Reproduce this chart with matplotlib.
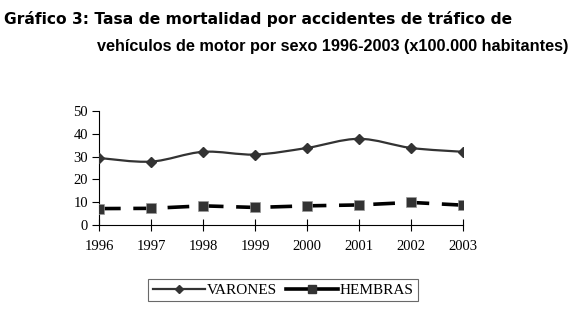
import numpy as np
import matplotlib
matplotlib.use('Agg')
from matplotlib import pyplot as plt
from matplotlib.path import Path
from matplotlib.patches import PathPatch
from matplotlib.lines import Line2D

years = [1996, 1997, 1998, 1999, 2000, 2001, 2002, 2003]
varones = [29.4, 27.8, 32.1, 30.9, 33.8, 37.8, 33.8, 32.1]
hembras = [7.2, 7.3, 8.4, 7.7, 8.4, 8.8, 9.9, 8.7]

title1 = 'Gráfico 3: Tasa de mortalidad por accidentes de tráfico de'
title2 = 'vehículos de motor por sexo 1996-2003 (x100.000 habitantes)'


def smooth_path(x, y, t=1.0 / 6):
    # excel-like smoothed line, bezier segments through the points
    x = np.asarray(x, float)
    y = np.asarray(y, float)
    n = len(x)
    verts = [(x[0], y[0])]
    codes = [Path.MOVETO]
    for i in range(n - 1):
        x0, y0 = (x[i - 1], y[i - 1]) if i > 0 else (x[i], y[i])
        x3, y3 = (x[i + 2], y[i + 2]) if i + 2 < n else (x[i + 1], y[i + 1])
        c1 = (x[i] + (x[i + 1] - x0) * t, y[i] + (y[i + 1] - y0) * t)
        c2 = (x[i + 1] - (x3 - x[i]) * t, y[i + 1] - (y3 - y[i]) * t)
        verts += [c1, c2, (x[i + 1], y[i + 1])]
        codes += [Path.CURVE4] * 3
    return Path(verts, codes)


fig = plt.figure(figsize=(5.75, 3.21), dpi=100)
ax = fig.add_axes([99 / 575, 96 / 321, 364 / 575, 114 / 321])

serif = 'Liberation Serif'
sans = 'Liberation Sans'

# varones: smoothed line + diamonds
ax.add_patch(PathPatch(smooth_path(years, varones), facecolor='none',
                       edgecolor='#333333', linewidth=1.6, zorder=2))
ax.plot(years, varones, linestyle='none', marker='D', markersize=5,
        color='#333333', zorder=3)

# hembras: thick dashed + squares
ax.plot(years, hembras, color='black', linewidth=2.6,
        dashes=(6, 3.5), zorder=2)
ax.plot(years, hembras, linestyle='none', marker='s', markersize=7,
        color='#333333', markeredgecolor='#999999', markeredgewidth=0.5,
        zorder=3)

ax.set_xlim(1996, 2003)
ax.set_ylim(0, 50)
ax.set_xticks(years)
ax.set_yticks([0, 10, 20, 30, 40, 50])
ax.spines['top'].set_visible(False)
ax.spines['right'].set_visible(False)
ax.spines['left'].set_linewidth(0.8)
ax.spines['bottom'].set_linewidth(0.8)
ax.tick_params(axis='y', direction='out', length=5, width=0.8, pad=3)
ax.tick_params(axis='x', direction='inout', length=8, width=0.8, pad=7)
for lab in ax.get_xticklabels() + ax.get_yticklabels():
    lab.set_fontfamily(serif)
    lab.set_fontsize(10.5)

fig.text(4 / 575, 1 - 19 / 321, title1, fontfamily='DejaVu Sans',
         fontweight='bold', fontsize=11.2, va='center', ha='left')
fig.text(97 / 575, 1 - 47 / 321, title2, fontfamily=sans, fontweight='bold',
         fontsize=11.7, va='center', ha='left')

handles = [
    Line2D([], [], color='#333333', linewidth=1.6, marker='D', markersize=4),
    Line2D([], [], color='black', linewidth=2.6, marker='s', markersize=6,
           markerfacecolor='#333333', markeredgecolor='#333333'),
]
leg = fig.legend(handles, ['VARONES', 'HEMBRAS'], loc='center',
                 bbox_to_anchor=(283 / 575, 1 - 290 / 321), ncol=2,
                 frameon=True, fancybox=False, handlelength=3.4,
                 handletextpad=0.1, columnspacing=0.6, borderpad=0.3,
                 prop={'family': serif, 'size': 11})
leg.get_frame().set_edgecolor('#444444')
leg.get_frame().set_linewidth(0.8)

fig.savefig('out.png', dpi=100)
